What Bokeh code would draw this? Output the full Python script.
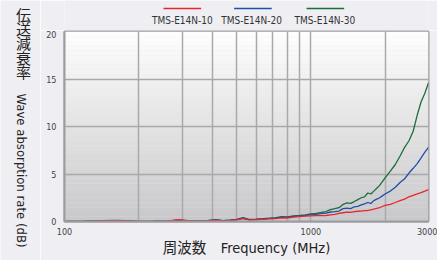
import numpy as np
from bokeh.plotting import figure
from bokeh.layouts import row, column
from bokeh.models import FixedTicker, Range1d
from bokeh.core.properties import value
from bokeh.embed import file_html
from bokeh.resources import INLINE

# ---- data ----
freq = [100, 120, 140, 160, 180, 200, 230, 260, 290, 320, 350, 380, 410, 440, 470,
        500, 530, 560, 600, 640, 680, 720, 760, 800, 850, 900, 950, 1000, 1050, 1100,
        1150, 1200, 1250, 1300, 1350, 1400, 1450, 1500, 1550, 1600, 1650, 1700, 1750,
        1800, 1850, 1900, 1950, 2000, 2100, 2200, 2300, 2400, 2500, 2600, 2700, 2800,
        2900, 3000]
tms30 = [0.02, 0.03, 0.08, 0.12, 0.08, 0.02, 0.03, 0.05, 0.15, 0.08, 0.06, 0.10, 0.20, 0.10, 0.15,
         0.22, 0.40, 0.22, 0.25, 0.30, 0.35, 0.40, 0.50, 0.48, 0.60, 0.65, 0.70, 0.80, 0.85, 0.95,
         1.05, 1.25, 1.35, 1.45, 1.80, 1.95, 1.90, 2.10, 2.30, 2.50, 2.60, 3.00, 2.90,
         3.20, 3.50, 3.80, 4.20, 4.60, 5.30, 6.00, 6.90, 7.80, 8.50, 9.50, 11.20, 12.60,
         13.50, 14.60]
tms20 = [0.02, 0.03, 0.07, 0.10, 0.07, 0.02, 0.03, 0.05, 0.14, 0.07, 0.05, 0.09, 0.18, 0.09, 0.13,
         0.20, 0.36, 0.20, 0.23, 0.27, 0.32, 0.36, 0.45, 0.44, 0.55, 0.60, 0.65, 0.72, 0.76, 0.82,
         0.88, 1.00, 1.05, 1.10, 1.35, 1.40, 1.35, 1.55, 1.60, 1.75, 1.85, 2.00, 1.90,
         2.20, 2.35, 2.50, 2.70, 2.90, 3.20, 3.60, 4.10, 4.50, 5.10, 5.60, 6.10, 6.70,
         7.30, 7.80]
tms10 = [0.01, 0.02, 0.05, 0.08, 0.05, 0.01, 0.02, 0.04, 0.20, 0.06, 0.04, 0.07, 0.15, 0.07, 0.10,
         0.16, 0.30, 0.16, 0.19, 0.23, 0.27, 0.31, 0.38, 0.37, 0.46, 0.52, 0.56, 0.60, 0.61, 0.62,
         0.63, 0.70, 0.76, 0.85, 0.92, 0.98, 0.95, 1.05, 1.08, 1.10, 1.14, 1.16, 1.22,
         1.30, 1.38, 1.45, 1.58, 1.70, 1.80, 2.00, 2.20, 2.35, 2.60, 2.75, 2.90, 3.05,
         3.20, 3.35]
series_names = ["TMS-E14N-10", "TMS-E14N-20", "TMS-E14N-30"]
series_colors = ["#e8262a", "#1f4fa8", "#1a6e3a"]
x_tick_values = [100, 1000, 3000]
x_grid_values = [100, 200, 300, 400, 500, 600, 700, 800, 900, 1000, 2000, 3000]
y_tick_values = [0, 5, 10, 15, 20]
y_title_jp = "伝\n送\n減\n衰\n率"
y_title_en = "Wave absorption rate (dB)"
x_title = "周波数　Frequency (MHz)"

BG = "#efeef3"
LATIN = "'Liberation Sans Narrow', 'DejaVu Sans Condensed', Roboto, 'Noto Sans CJK JP'"
CJK = "'Noto Sans CJK JP'"


def strip(w, h, x0, x1, y0, y1):
    f = figure(width=w, height=h, x_range=Range1d(x0, x1), y_range=Range1d(y1, y0),
               x_axis_location=None, y_axis_location=None,
               output_backend="svg", toolbar_location=None)
    f.min_border = 0
    f.outline_line_color = None
    f.background_fill_color = BG
    f.border_fill_color = BG
    f.grid.visible = False
    return f


# ---- left strip: vertical y-axis title (page pixel coordinates) ----
lab = strip(40, 260, 0, 40, 0, 260)
lab.text(x=[23], y=[3], text=[y_title_jp], text_align="center", text_baseline="top",
         text_font=value(CJK), text_font_size="15px", text_line_height=0.69,
         text_color="#222222")
lab.text(x=[21], y=[170], text=[y_title_en], angle=-np.pi / 2, text_align="center",
         text_baseline="middle", text_font=value(LATIN), text_font_size="13px",
         text_color="#222222")

# ---- top strip: legend ----
leg = strip(397, 30, 40, 437, 0, 30)
leg_centers = [168.5, 245.5, 324.5]
leg_half = 20.5
leg.segment(x0=[c - leg_half for c in leg_centers], x1=[c + leg_half for c in leg_centers],
            y0=[8] * 3, y1=[8] * 3, line_color=series_colors, line_width=1.5)
leg.text(x=[168.5, 244, 324], y=[19.5] * 3, text=series_names, text_align="center",
         text_baseline="middle", text_font=value(LATIN), text_font_size="10px",
         text_color="#333333")

# ---- main chart ----
p = figure(width=397, height=230, frame_width=364, frame_height=190,
           x_axis_type="log", x_range=Range1d(100, 3000), y_range=Range1d(0, 20),
           output_backend="svg", toolbar_location=None,
           min_border_left=24, min_border_right=9, min_border_top=1, min_border_bottom=39,
           background_fill_color="#e6e6e8", border_fill_color=BG,
           outline_line_color="#9c9c9f", outline_line_width=2)

# vertical gradient of plot area (white top -> gray bottom)
edges = np.linspace(0, 20, 41)
top_c = np.array([0xfe, 0xfe, 0xfe])
bot_c = np.array([0xc8, 0xc8, 0xca])
cols = []
for i in range(40):
    t = (edges[i] + edges[i + 1]) / 2 / 20
    c = bot_c + (top_c - bot_c) * t
    cols.append("#%02x%02x%02x" % tuple(int(round(v)) for v in c))
g = p.quad(left=100, right=3000, bottom=edges[:-1], top=edges[1:], fill_color=cols, line_color=None)
g.level = "image"

for ys, col in zip([tms30, tms20, tms10], series_colors[::-1]):
    p.line(freq, ys, line_color=col, line_width=1.3)

p.xaxis.ticker = FixedTicker(ticks=x_tick_values)
p.yaxis.ticker = FixedTicker(ticks=y_tick_values)
p.xgrid.ticker = FixedTicker(ticks=x_grid_values)
p.ygrid.ticker = FixedTicker(ticks=y_tick_values)
for gr in (p.xgrid, p.ygrid):
    gr.grid_line_color = "#a9a9ac"
    gr.grid_line_width = 1.5
for ax in (p.xaxis, p.yaxis):
    ax.axis_line_color = "#9c9c9f"
    ax.axis_line_width = 2
    ax.major_tick_line_color = None
    ax.minor_tick_line_color = None
    ax.major_label_text_font = LATIN
    ax.major_label_text_font_size = "9px"
    ax.major_label_text_color = "#444444"
p.yaxis.major_label_standoff = 2
p.xaxis.major_label_standoff = 0
p.xaxis.axis_label = x_title
p.xaxis.axis_label_text_font = LATIN
p.xaxis.axis_label_text_font_size = "14.5px"
p.xaxis.axis_label_text_font_style = "normal"
p.xaxis.axis_label_text_color = "#222222"
p.xaxis.axis_label_standoff = 2

layout = row(lab, column(leg, p, spacing=0), spacing=0)

open("out.html", "w").write(file_html(layout, INLINE))
